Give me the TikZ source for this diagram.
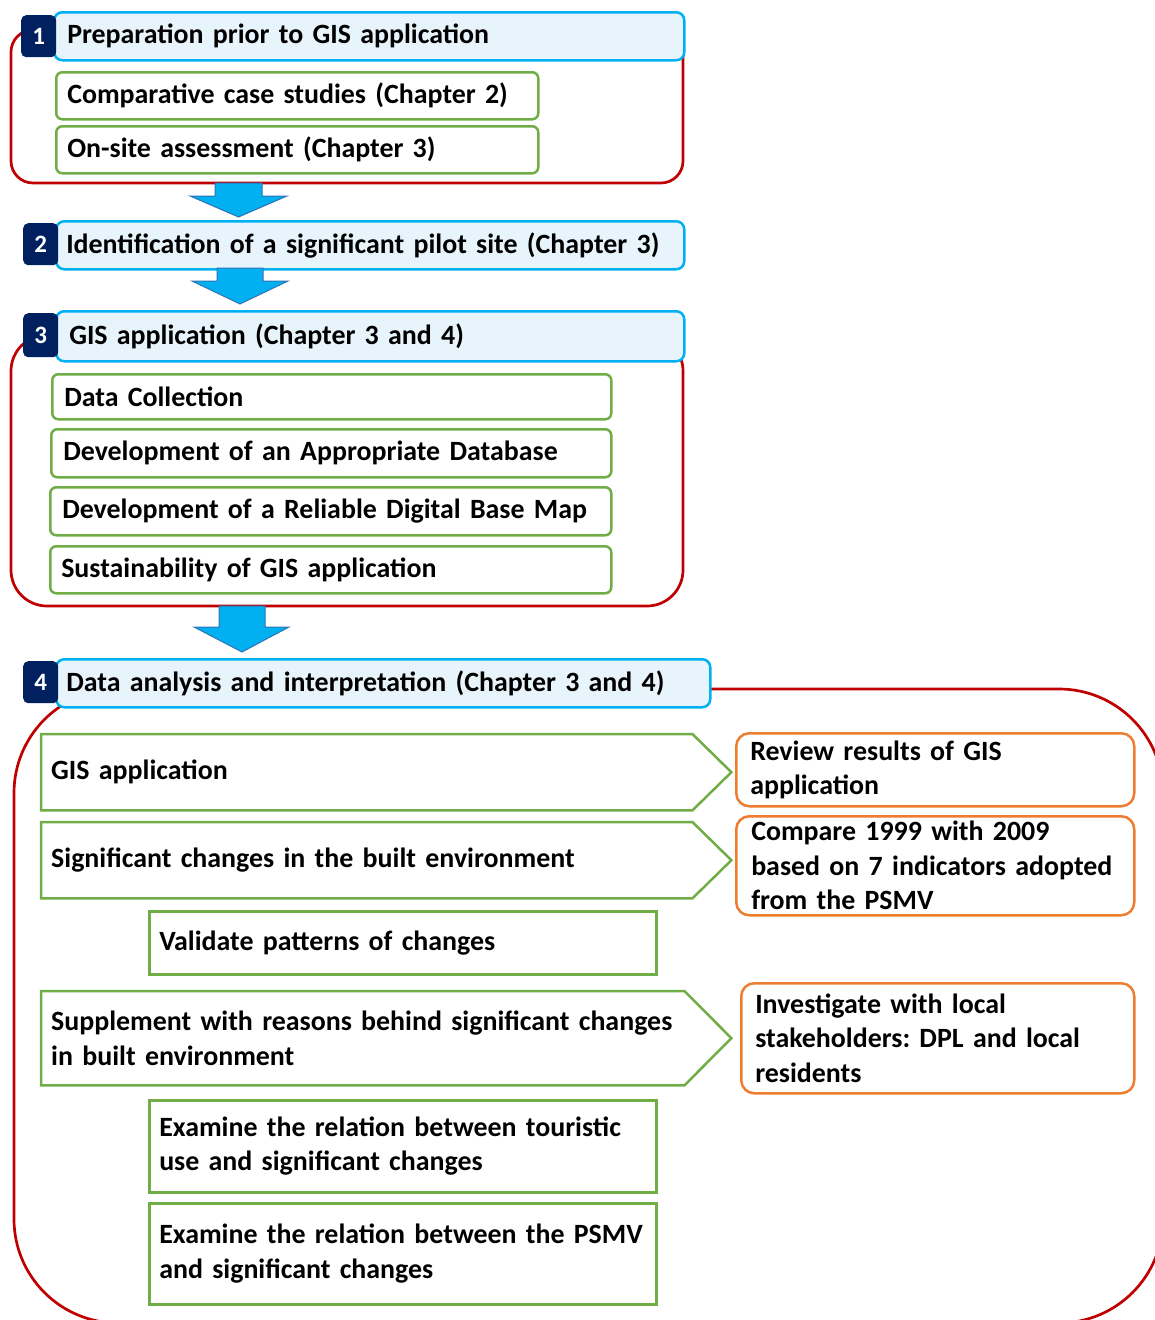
\documentclass[tikz,border=0pt]{standalone}
\usepackage{fontspec}
\setmainfont{Carlito}
\frenchspacing
\definecolor{myred}{HTML}{C00000}
\definecolor{mygreen}{HTML}{70AD47}
\definecolor{mycyan}{HTML}{00B0F0}
\definecolor{mylight}{HTML}{E8F4FC}
\definecolor{mynavy}{HTML}{002060}
\definecolor{myorange}{HTML}{ED7D31}
\definecolor{myarrow}{HTML}{00B0F0}
\definecolor{myarrowedge}{HTML}{2E75B6}
\begin{document}
\begin{tikzpicture}[x=1pt,y=-1pt,
  txt/.style={font=\fontsize{27.9}{34.5}\selectfont\bfseries, text=black},
  redbox/.style={draw=myred, line width=2.7pt},
  head/.style={draw=mycyan, fill=mylight, line width=2.5pt, rounded corners=8pt, anchor=north west, txt, align=left, inner ysep=0pt},
  badge/.style={fill=mynavy, rounded corners=5pt, text=white, font=\fontsize{25}{25}\selectfont\bfseries, anchor=north west, minimum width=35pt, minimum height=42pt, inner sep=0pt},
  gbox/.style={draw=mygreen, line width=2.5pt, rounded corners=6pt, anchor=north west, txt, align=left, inner ysep=0pt},
  rbox/.style={draw=mygreen, line width=2.5pt, anchor=north west, txt, align=left, inner ysep=0pt},
  chev/.style={anchor=north west, txt, align=left, inner ysep=0pt},
  chevline/.style={draw=mygreen, line width=2.5pt, line join=miter},
  obox/.style={draw=myorange, fill=white, line width=2.5pt, rounded corners=13pt, anchor=north west, txt, align=left, inner ysep=0pt},
  barrow/.style={fill=myarrow, draw=myarrowedge, line width=1pt, line join=miter}
]
\useasboundingbox (0,0) rectangle (1155,1320);

% ---------- Section 1 ----------
\draw[redbox, rounded corners=22pt] (11,30) rectangle (683,183);
\node[head, inner xsep=13pt, text width=604pt, minimum height=48pt] (h1) at (53,11) {Preparation prior to GIS application};
\node[badge] (b1) at (21,15) {1};
\node[gbox, inner xsep=11pt, text width=460pt, minimum height=47pt] (s1a) at (55,71) {Comparative case studies (Chapter 2)};
\node[gbox, inner xsep=11pt, text width=460pt, minimum height=47pt] (s1b) at (55,125) {On-site assessment (Chapter 3)};

% arrow 1
\draw[barrow] (215,183) -- (262,183) -- (262,196) -- (287,196) -- (238.5,217) -- (190,196) -- (215,196) -- cycle;

% ---------- Section 2 ----------
\node[head, inner xsep=10pt, text width=608pt, minimum height=48pt] (h2) at (55,220) {Identification of a significant pilot site (Chapter 3)};
\node[badge] (b2) at (23,223) {2};

% arrow 2
\draw[barrow] (217,268) -- (263,268) -- (263,281) -- (288,281) -- (240,304) -- (192,281) -- (217,281) -- cycle;

% ---------- Section 3 ----------
\draw[redbox, rounded corners=36pt] (11,335) rectangle (683,606);
\node[head, inner xsep=13pt, text width=602pt, minimum height=50pt] (h3) at (55,310) {GIS application (Chapter 3 and 4)};
\node[badge, minimum height=44pt] (b3) at (23,313) {3};
\node[gbox, inner xsep=12pt, text width=535pt, minimum height=45pt] (s3a) at (51,373) {Data Collection};
\node[gbox, inner xsep=12pt, text width=536pt, minimum height=48pt] (s3b) at (50,428) {Development of an Appropriate Database};
\node[gbox, inner xsep=12pt, text width=537pt, minimum height=48pt] (s3c) at (49,486) {Development of a Reliable Digital Base Map};
\node[gbox, inner xsep=11pt, text width=539pt, minimum height=47pt] (s3d) at (49,545) {Sustainability of GIS application};

% arrow 3
\draw[barrow] (219,606) -- (265,606) -- (265,627) -- (289,627) -- (242,652) -- (194,627) -- (219,627) -- cycle;

% ---------- Section 4 ----------
\draw[redbox, rounded corners=104pt] (14,689) rectangle (1163,1323);
\node[head, inner xsep=10pt, text width=634pt, minimum height=48pt] (h4) at (55,658) {Data analysis and interpretation (Chapter 3 and 4)};
\node[badge] (b4) at (23,661) {4};

% chevrons
\node[chev, inner xsep=10pt, text width=631pt, minimum height=76pt] (c1) at (41,734) {GIS application};
\draw[chevline] (c1.north west) -- (c1.north east) -- ([xshift=39pt]c1.east) -- (c1.south east) -- (c1.south west) -- cycle;
\node[chev, inner xsep=10pt, text width=631pt, minimum height=76pt] (c2) at (41,822) {Significant changes in the built environment};
\draw[chevline] (c2.north west) -- (c2.north east) -- ([xshift=39pt]c2.east) -- (c2.south east) -- (c2.south west) -- cycle;
\node[chev, inner xsep=10pt, text width=623pt, minimum height=94pt] (c3) at (41,991) {Supplement with reasons behind significant changes\\in built environment};
\draw[chevline] (c3.north west) -- (c3.north east) -- ([xshift=47pt]c3.east) -- (c3.south east) -- (c3.south west) -- cycle;

% rectangles
\node[rbox, inner xsep=10pt, text width=487pt, minimum height=63pt] (r1) at (148,910) {Validate patterns of changes};
\node[rbox, inner xsep=10pt, text width=487pt, minimum height=92pt] (r2) at (148,1099) {Examine the relation between touristic\\use and significant changes};
\node[rbox, inner xsep=10pt, text width=487pt, minimum height=101pt] (r3) at (148,1202) {Examine the relation between the PSMV\\and significant changes};

% orange boxes
\node[obox, inner xsep=14pt, text width=370pt, minimum height=73pt] (o1) at (735,732) {Review results of GIS\\application};
\node[obox, inner xsep=15pt, text width=368pt, minimum height=99pt] (o2) at (735,815) {Compare 1999 with 2009\\based on 7 indicators adopted\\from the PSMV};
\node[obox, inner xsep=14pt, text width=365pt, minimum height=110pt] (o3) at (740,982) {Investigate with local\\stakeholders: DPL and local\\residents};
\end{tikzpicture}
\end{document}
